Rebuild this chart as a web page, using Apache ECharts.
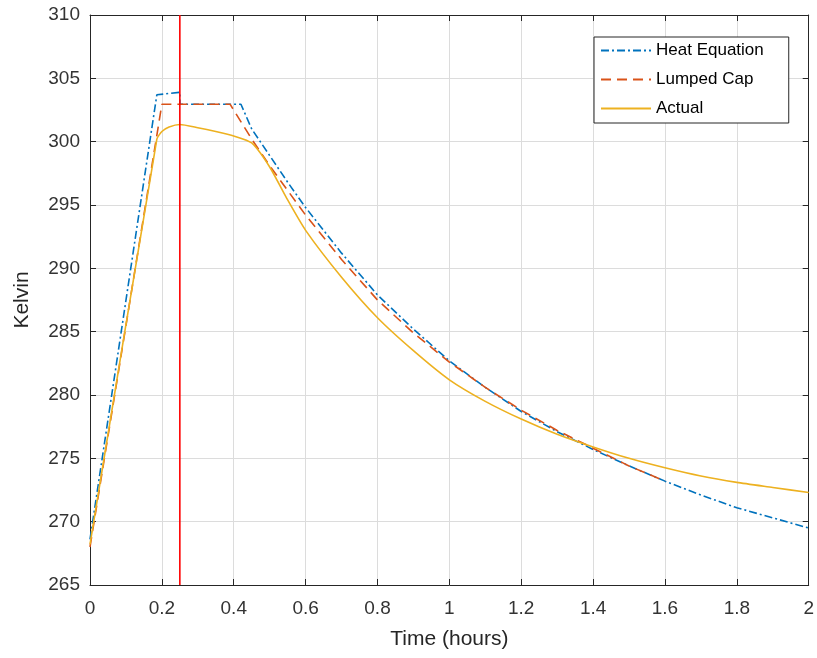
<!DOCTYPE html>
<html>
<head>
<meta charset="utf-8">
<script src="https://cdn.jsdelivr.net/npm/echarts@6/dist/echarts.min.js"></script>
<style>html,body{margin:0;padding:0;background:#fff;}#c{width:817px;height:658px;}</style>
</head>
<body>
<div id="c"></div>
<script>
// ---- data ----
var heatT = [0, 0.186, 0.25, 0.25, 0.42, 0.45, 0.5, 0.55, 0.6, 0.7, 0.8, 0.9, 1.0, 1.1, 1.2, 1.3, 1.4, 1.5, 1.6, 1.7, 1.8, 1.9, 2.0];
var heatY = [268.6, 303.7, 303.9, 302.95, 302.95, 301.0, 298.9, 296.8, 294.8, 291.2, 287.9, 285.2, 282.7, 280.6, 278.7, 277.1, 275.7, 274.4, 273.2, 272.1, 271.1, 270.3, 269.5];
var lumpT = [0, 0.2, 0.39, 0.45, 0.5, 0.6, 0.7, 0.8, 0.9, 1.0, 1.1, 1.2, 1.3, 1.4, 1.5, 1.6];
var lumpY = [268.0, 302.95, 302.95, 300.2, 298.1, 294.2, 290.7, 287.5, 284.9, 282.6, 280.6, 278.8, 277.2, 275.8, 274.4, 273.2];
var actT = [0, 0.186, 0.2, 0.22, 0.25, 0.3, 0.35, 0.4, 0.45, 0.5, 0.55, 0.6, 0.7, 0.8, 0.9, 1.0, 1.1, 1.2, 1.3, 1.4, 1.5, 1.6, 1.7, 1.8, 1.9, 2.0];
var actY = [268.2, 300.2, 300.8, 301.15, 301.35, 301.1, 300.8, 300.45, 299.9, 298.0, 295.4, 293.0, 289.3, 286.1, 283.5, 281.2, 279.5, 278.1, 276.9, 275.9, 275.0, 274.25, 273.6, 273.1, 272.7, 272.3];
var markerTime = 0.25;
var seriesNames = ['Heat Equation', 'Lumped Cap', 'Actual'];
var xMin = 0, xMax = 2, xStep = 0.2;
var yMin = 265, yMax = 310, yStep = 5;

function pairs(t, y) { return t.map(function (v, i) { return [v, y[i]]; }); }

var chart = echarts.init(document.getElementById('c'), null, { renderer: 'canvas' });
var axisCol = '#262626';
var fontFam = 'Liberation Sans, Arial, Helvetica, sans-serif';

var baseX = {
  type: 'value', min: xMin, max: xMax, interval: xStep,
  axisLine: { show: true, onZero: false, lineStyle: { color: axisCol, width: 1 } },
  axisTick: { show: true, inside: true, length: 6, lineStyle: { color: axisCol } },
  splitLine: { show: false }
};
var baseY = {
  type: 'value', min: yMin, max: yMax, interval: yStep,
  axisLine: { show: true, onZero: false, lineStyle: { color: axisCol, width: 1 } },
  axisTick: { show: true, inside: true, length: 6, lineStyle: { color: axisCol } },
  splitLine: { show: false }
};

var option = {
  backgroundColor: '#fff',
  animation: false,
  grid: { left: 90, right: 8, top: 15, bottom: 73, containLabel: false },
  legend: {
    data: seriesNames,
    orient: 'vertical',
    left: 594, top: 37,
    itemWidth: 50, itemHeight: 12, itemGap: 12,
    padding: [5, 25, 6, 6],
    backgroundColor: '#fff',
    borderColor: axisCol, borderWidth: 1,
    itemStyle: { opacity: 0 },
    textStyle: { fontSize: 17, color: '#000', fontFamily: fontFam }
  },
  xAxis: [
    Object.assign({}, baseX, {
      position: 'bottom',
      axisLabel: { show: true, fontSize: 19, color: '#333', margin: 14, fontFamily: fontFam,
        formatter: function (v) { return String(Math.round(v * 10) / 10); } },
      splitLine: { show: true, lineStyle: { color: '#dcdcdc', width: 1 } },
      name: 'Time (hours)', nameLocation: 'middle', nameGap: 44,
      nameTextStyle: { fontSize: 21, color: '#262626', fontFamily: fontFam }
    }),
    Object.assign({}, baseX, { position: 'top', axisLabel: { show: false } })
  ],
  yAxis: [
    Object.assign({}, baseY, {
      position: 'left',
      axisLabel: { show: true, fontSize: 19, color: '#333', margin: 10, fontFamily: fontFam },
      splitLine: { show: true, lineStyle: { color: '#dcdcdc', width: 1 } },
      name: 'Kelvin', nameLocation: 'middle', nameGap: 57, nameRotate: 90,
      nameTextStyle: { fontSize: 21, color: '#262626', fontFamily: fontFam }
    }),
    Object.assign({}, baseY, { position: 'right', axisLabel: { show: false } })
  ],
  series: [
    {
      name: seriesNames[0], type: 'line', data: pairs(heatT, heatY),
      showSymbol: false, symbol: 'none', z: 3,
      lineStyle: { color: '#0072BD', width: 1.6, type: [8, 3, 2, 3] },
      itemStyle: { color: '#0072BD' }
    },
    {
      name: seriesNames[1], type: 'line', data: pairs(lumpT, lumpY),
      showSymbol: false, symbol: 'none', z: 3,
      lineStyle: { color: '#D95319', width: 1.6, type: [10, 6] },
      itemStyle: { color: '#D95319' }
    },
    {
      name: seriesNames[2], type: 'line', data: pairs(actT, actY),
      showSymbol: false, symbol: 'none', z: 3, smooth: 0.2,
      lineStyle: { color: '#EDB120', width: 1.6, type: 'solid' },
      itemStyle: { color: '#EDB120' }
    },
    {
      name: 'marker', type: 'line', data: [[markerTime, yMin], [markerTime, yMax]],
      showSymbol: false, symbol: 'none', z: 4,
      lineStyle: { color: '#ff0000', width: 1.6 },
      itemStyle: { color: '#ff0000' }
    }
  ]
};
chart.setOption(option);
</script>
</body>
</html>
